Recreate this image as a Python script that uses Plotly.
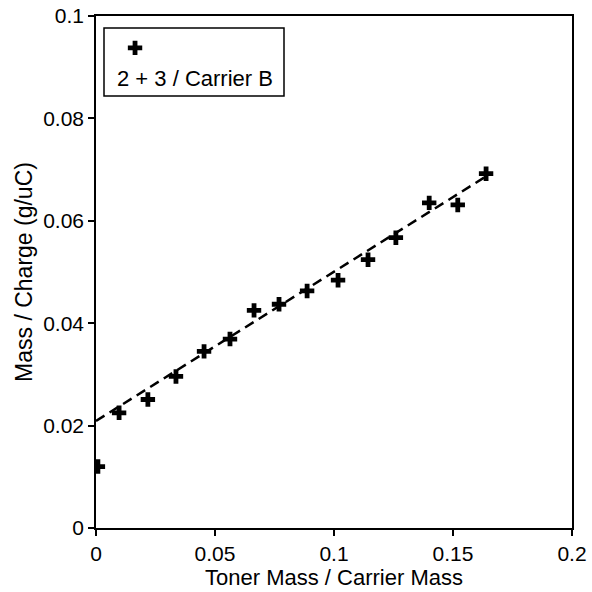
import plotly.graph_objects as go

# Data
toner_ratio = [0.0008, 0.0097, 0.0218, 0.0336, 0.0454, 0.0563, 0.0664, 0.0769,
               0.0887, 0.1017, 0.1143, 0.126, 0.140, 0.152, 0.1639]
mass_charge = [0.0120, 0.0225, 0.0251, 0.0296, 0.0345, 0.0369, 0.0425, 0.0437,
               0.0463, 0.0484, 0.0524, 0.0567, 0.0635, 0.0631, 0.0692]
fit_x = [0.0, 0.165]
fit_y = [0.0209, 0.0690]

x_ticks = [0, 0.05, 0.1, 0.15, 0.2]
x_tick_labels = ["0", "0.05", "0.1", "0.15", "0.2"]
y_ticks = [0, 0.02, 0.04, 0.06, 0.08, 0.1]
y_tick_labels = ["0", "0.02", "0.04", "0.06", "0.08", "0.1"]

series_name = "2 + 3 / Carrier B"

FONT = "Liberation Sans, Arial, sans-serif"

fig = go.Figure()
fig.add_trace(go.Scatter(
    x=fit_x, y=fit_y, mode="lines",
    line=dict(color="black", width=2.5, dash="10px,6px"),
    showlegend=False, hoverinfo="skip",
))
fig.add_trace(go.Scatter(
    x=toner_ratio, y=mass_charge, mode="markers",
    marker=dict(symbol="cross", size=12, color="black"),
    name=" ", showlegend=True,
))

axis_common = dict(
    showgrid=False, zeroline=False, showline=True, linecolor="black",
    linewidth=1.5, mirror=True, ticks="outside", ticklen=6, tickwidth=1.5,
    tickcolor="black", automargin=False,
    tickfont=dict(family=FONT, size=21, color="black"),
)

fig.update_layout(
    width=592, height=592,
    margin=dict(l=96, r=20, t=16, b=64),
    paper_bgcolor="white", plot_bgcolor="white",
    font=dict(family=FONT, color="black"),
    xaxis=dict(range=[0, 0.2], tickvals=x_ticks, ticktext=x_tick_labels,
               title=dict(text="Toner Mass / Carrier Mass",
                          font=dict(family=FONT, size=22, color="black"),
                          standoff=0),
               **axis_common),
    yaxis=dict(range=[0, 0.1], tickvals=y_ticks, ticktext=y_tick_labels,
               title=dict(text="Mass / Charge (g/uC)",
                          font=dict(family=FONT, size=23, color="black"),
                          standoff=4),
               **axis_common),
    legend=dict(x=0.04, y=0.966, xanchor="left", yanchor="top",
                bgcolor="rgba(0,0,0,0)", borderwidth=0,
                font=dict(size=10)),
    shapes=[dict(type="rect", xref="paper", yref="paper",
                 x0=(104 - 96) / 476, x1=(284 - 96) / 476,
                 y0=(528 - 96) / 512, y1=(528 - 28) / 512,
                 line=dict(color="black", width=1.5))],
    annotations=[dict(text=series_name, xref="paper", yref="paper",
                      x=(195 - 96) / 476, y=(528 - 78) / 512,
                      xanchor="center", yanchor="middle", showarrow=False,
                      font=dict(family=FONT, size=22, color="black"))],
)

fig.write_html("out.html")
